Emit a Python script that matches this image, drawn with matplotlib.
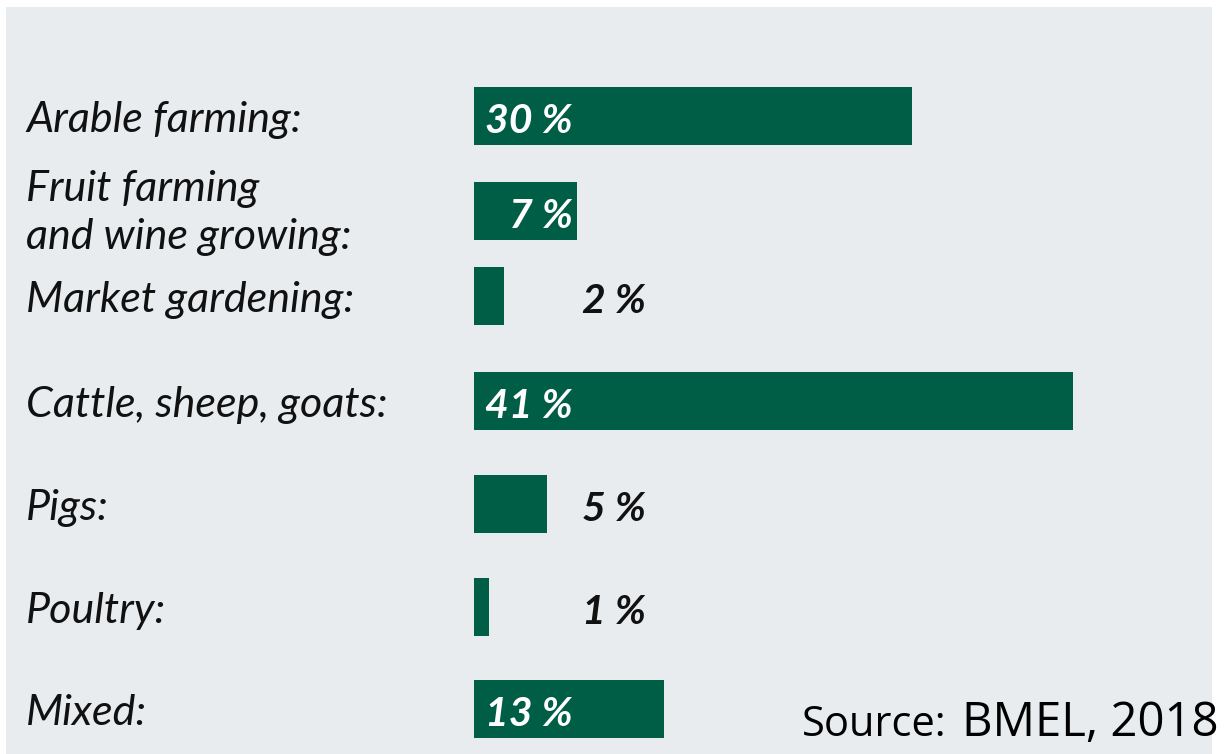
import matplotlib
matplotlib.use("Agg")
import matplotlib.pyplot as plt
from matplotlib.patches import Rectangle

# Share of farms by type of farming
categories = [
    "Arable farming:",
    "Fruit farming\nand wine growing:",
    "Market gardening:",
    "Cattle, sheep, goats:",
    "Pigs:",
    "Poultry:",
    "Mixed:",
]
shares = [30, 7, 2, 41, 5, 1, 13]
value_labels = ["30 %", "7 %", "2 %", "41 %", "5 %", "1 %", "13 %"]
source_prefix = "Source:"
source_name = "BMEL, 2018"

# Layout (figure pixels)
W, H = 1230, 754
row_y = [116.3, 210.5, 296.3, 400.5, 504.3, 606.7, 708.8]
bar_x0 = 474.3          # pixel where the value axis starts
px_per_unit = 14.6      # pixels per percentage point
bar_h = 58

GREEN = "#005E47"
PANEL = "#E8ECEF"
LABEL_FONT = "Lato"

fig = plt.figure(figsize=(W / 100, H / 100), dpi=100, facecolor="white")
ax = fig.add_axes([0, 0, 1, 1])
ax.set_xlim(-bar_x0 / px_per_unit, (W - bar_x0) / px_per_unit)
ax.set_ylim(H, 0)
ax.axis("off")


def px(x):
    """Convert a horizontal pixel position into value-axis units."""
    return (x - bar_x0) / px_per_unit


# background panel
ax.add_patch(Rectangle((px(6), 7), (1212 - 6) / px_per_unit, H - 7,
                       facecolor=PANEL, edgecolor="none", zorder=0))

# bars
ax.barh(row_y, shares, height=bar_h, left=0, color=GREEN,
        edgecolor="none", zorder=2)

# category labels
line_gap = 48
for y, cat in zip(row_y, categories):
    lines = cat.split("\n")
    n = len(lines)
    for i, line in enumerate(lines):
        base = y + 16 + (i - (n - 1) / 2) * line_gap - (2 if n > 1 else 0)
        ax.text(px(26), base, line, ha="left", va="baseline",
                fontsize=31, style="italic", family=LABEL_FONT,
                color="#111111", zorder=3)

# value labels
for y, v, lab in zip(row_y, shares, value_labels):
    inside = v >= 7
    ax.text(px(573) if inside else px(646), y + 17, lab,
            ha="right", va="baseline", fontsize=29.5, style="italic",
            fontweight="bold", family=LABEL_FONT,
            color="white" if inside else "#111111", zorder=3)

# source note
ax.text(px(947), 736, source_prefix, ha="right", va="baseline",
        fontsize=30, family="Open Sans", color="black", zorder=3)
ax.text(px(1219), 736, source_name, ha="right", va="baseline",
        fontsize=34, family="Open Sans", color="black", zorder=3)

fig.savefig("out.png", dpi=100, facecolor="white")
